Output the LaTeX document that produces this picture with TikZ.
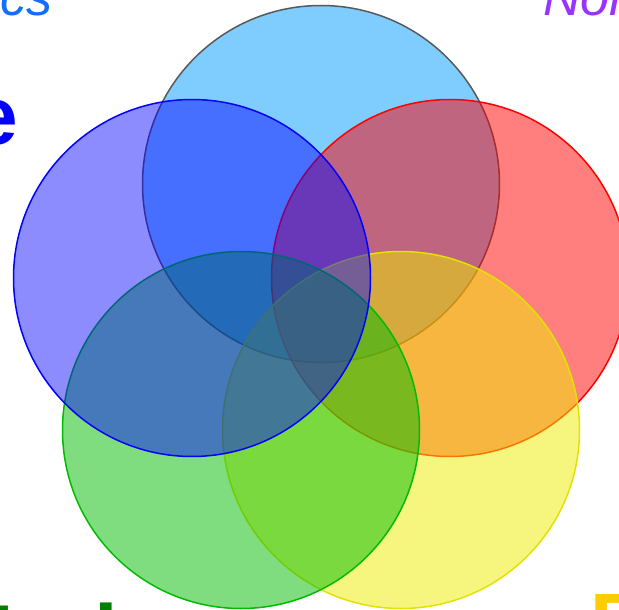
\documentclass[tikz,border=0pt]{standalone}
\usepackage{fontspec}
\setmainfont{Liberation Sans}

\definecolor{skyset}{RGB}{0,153,255}
\definecolor{blueset}{RGB}{0,0,255}
\definecolor{redset}{RGB}{255,0,0}
\definecolor{greenset}{RGB}{0,187,0}
\definecolor{yellowset}{RGB}{238,238,0}
\definecolor{csblue}{RGB}{17,110,255}
\definecolor{norpurple}{RGB}{153,51,255}
\definecolor{labgreen}{RGB}{0,128,0}
\definecolor{labyellow}{RGB}{255,204,0}

\begin{document}
\begin{tikzpicture}[
    x=1pt, y=-1pt,
    setcirc/.style={
        circle,
        minimum size=357pt,
        inner sep=0pt,
        line width=1.5pt,
        fill opacity=0.5
    },
    biglabel/.style={
        inner sep=0pt,
        font=\fontsize{85}{90}\selectfont\bfseries
    },
    toplabel/.style={
        inner sep=0pt,
        font=\fontsize{52}{56}\selectfont\itshape
    }
]

\useasboundingbox (0,0) rectangle (619,610);
\clip (0,0) rectangle (619,610);

% Labels (cut by the frame)
\node[toplabel, text=csblue, anchor=base east] (lcs) at (53,16) {cs};
\node[toplabel, text=norpurple, anchor=base west] (lnor) at (543,16) {Nor};
\node[biglabel, text=blue, anchor=base east, font=\fontsize{82}{86}\selectfont\bfseries] (le) at (18,144) {e};
\node[biglabel, text=labgreen, anchor=base west] (lgreen) at (-9.5,664) {Irel};
\node[biglabel, text=labyellow, anchor=base west, font=\fontsize{80}{84}\selectfont\bfseries] (lyellow) at (590,649) {F};

% Set circles
\node[setcirc, fill=skyset, draw=black!65] (sky) at (321,184) {};
\node[setcirc, fill=redset, draw=redset] (red) at (450,278) {};
\node[setcirc, fill=yellowset, draw=yellowset!95!black] (yellow) at (401,430) {};
\node[setcirc, fill=greenset, draw=greenset] (green) at (241,430) {};
\node[setcirc, fill=blueset, draw=blueset, fill opacity=0.45] (blue) at (192,278) {};

\end{tikzpicture}
\end{document}
